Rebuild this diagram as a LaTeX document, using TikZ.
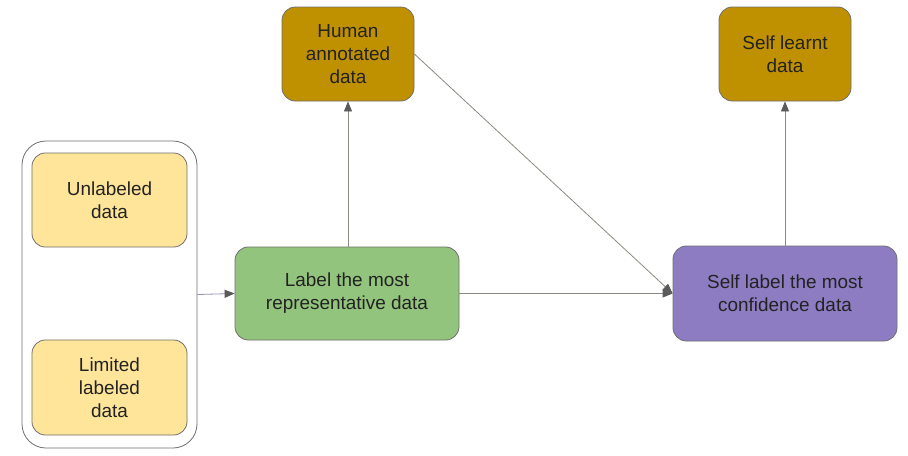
\documentclass[tikz,border=0pt]{standalone}
\usepackage{fontspec}
\setmainfont{Liberation Sans}
\usetikzlibrary{arrows.meta}
\definecolor{boxyellow}{HTML}{FFE599}
\definecolor{boxgreen}{HTML}{93C47D}
\definecolor{boxgold}{HTML}{BF9000}
\definecolor{boxpurple}{HTML}{8E7CC3}
\definecolor{edgegray}{HTML}{6E6E6E}
\definecolor{linegray}{HTML}{8A8A80}
\definecolor{linepurple}{HTML}{9090B8}
\definecolor{tipgray}{HTML}{5A5A5A}
\definecolor{textdark}{HTML}{222222}
\begin{document}
\begin{tikzpicture}[x=0.75pt,y=-0.75pt,
  box/.style={draw=edgegray, line width=0.6pt, rounded corners=10pt, align=center,
    font=\fontsize{14.2}{17.2}\selectfont, text=textdark, inner sep=0pt},
  conn/.style={draw=linegray, line width=0.6pt,
    -{Triangle[length=7.5pt,width=6pt,fill=tipgray,color=tipgray]}}]
\useasboundingbox (0,0) rectangle (908,455);
\node[draw=edgegray, line width=0.6pt, rounded corners=18pt, minimum width=175*0.75pt, minimum height=307*0.75pt] (cont) at (109.5,294.5) {};
\node[box, fill=boxyellow, minimum width=155*0.75pt, minimum height=94*0.75pt] (unl) at (109.5,200) {Unlabeled\\data};
\node[box, fill=boxyellow, minimum width=155*0.75pt, minimum height=95*0.75pt] (lim) at (109.5,387.5) {Limited\\labeled\\data};
\node[box, fill=boxgreen, minimum width=224*0.75pt, minimum height=93*0.75pt] (green) at (347,293.5) {Label the most\\representative data};
\node[box, fill=boxgold, minimum width=132*0.75pt, minimum height=94*0.75pt] (human) at (348,54) {Human\\annotated\\data};
\node[box, fill=boxgold, minimum width=132*0.75pt, minimum height=94*0.75pt] (self) at (785,54) {Self learnt\\data};
\node[box, fill=boxpurple, minimum width=224*0.75pt, minimum height=95*0.75pt] (purple) at (785,293.5) {Self label the most\\confidence data};
\draw[conn, draw=linepurple] (cont.east) -- (green.west);
\draw[conn] (green.north -| human.south) -- (human.south);
\draw[conn] (green.east) -- (purple.west);
\draw[conn] (human.east) -- (purple.west);
\draw[conn] (purple.north) -- (self.south);
\end{tikzpicture}
\end{document}
